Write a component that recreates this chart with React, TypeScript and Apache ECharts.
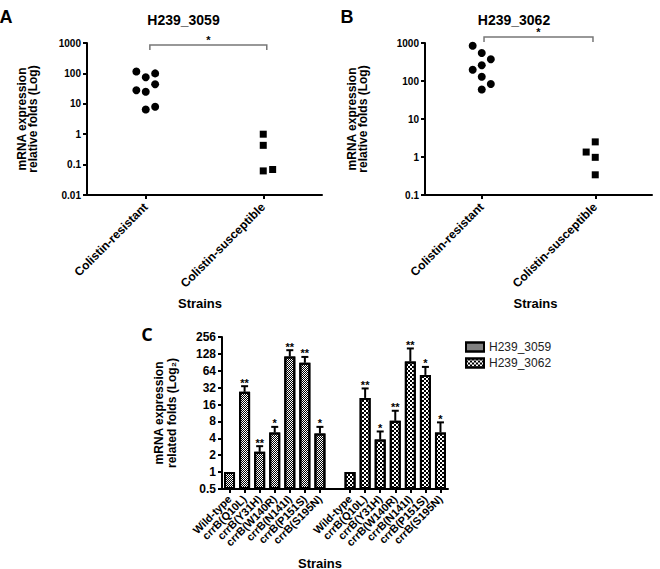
import React, { useEffect, useRef } from 'react';
import * as echarts from 'echarts';

// ---------- Panel A / B data ----------
const groupsAB = ['Colistin-resistant', 'Colistin-susceptible'];

const aResistant = [116, 75, 100, 28, 25, 44, 6.5, 8];
const aResistantCol = [-1, 0, 1, -1, 0, 1, 0, 1];
const aSusceptible = [1.0, 0.43, 0.062, 0.069];
const aSusceptibleCol = [0, 0, 0, 1];

const bResistant = [850, 545, 372, 198, 259, 130, 83, 60];
const bResistantCol = [-1, 0, 1, -1, 0, 0, 1, 0];
const bSusceptible = [2.5, 1.35, 0.98, 0.34];
const bSusceptibleCol = [0, -1, 0, 0];

const yRangeA = [0.01, 1000];
const yRangeB = [0.1, 1000];

// significance bracket: [from group, to group, top value, end value]
const bracketA = [1.035, 2.03, 860, 590];
const bracketB = [1.02, 1.98, 1440, 1060];

// ---------- Panel C data ----------
const strainsC = ['Wild-type', 'crrB(Q10L)', 'crrB(Y31H)', 'crrB(W140R)', 'crrB(N141I)', 'crrB(P151S)', 'crrB(S195N)'];
const mean3059 = [1, 27, 2.3, 5.1, 115, 89, 4.9];
const upper3059 = [1, 34, 2.9, 6.4, 149, 113, 6.4];
const sig3059 = ['', '**', '**', '*', '**', '**', '*'];
const mean3062 = [1, 21, 3.8, 8.2, 94, 54, 5.1];
const upper3062 = [1, 31, 5.3, 12.4, 160, 75, 7.7];
const sig3062 = ['', '**', '*', '**', '**', '*', '*'];
const yRangeC = [0.5, 256];

const FONT = '"Liberation Sans", Arial, sans-serif';
const JITTER = 0.08;

const catsC = [...strainsC, '', ...strainsC];
const off2 = strainsC.length + 1;

function jitterData(vals: number[], cols: number[], center: number) {
  return vals.map((v, i) => [center + cols[i] * JITTER, v]);
}

function bracketSeries(xi: number, yi: number, b: number[]) {
  return {
    type: 'custom',
    xAxisIndex: xi,
    yAxisIndex: yi,
    silent: true,
    clip: false,
    itemStyle: { color: '#000' },
    encode: { x: [0, 1], y: [2, 3] },
    data: [b],
    renderItem: (params: any, api: any) => {
      const p1 = api.coord([api.value(0), api.value(3)]);
      const p2 = api.coord([api.value(0), api.value(2)]);
      const p3 = api.coord([api.value(1), api.value(2)]);
      const p4 = api.coord([api.value(1), api.value(3)]);
      return {
        type: 'group',
        children: [
          { type: 'polyline', shape: { points: [p1, p2, p3, p4] }, style: { stroke: '#777', lineWidth: 1.5, fill: null } },
          {
            type: 'text',
            x: (p2[0] + p3[0]) / 2,
            y: p2[1] + 1,
            style: { text: '*', align: 'center', verticalAlign: 'bottom', fill: '#000', fontSize: 11, fontWeight: 'bold', fontFamily: FONT },
          },
        ],
      };
    },
  };
}

function errorSeries(means: number[], uppers: number[], sigs: string[], offset: number) {
  return {
    type: 'custom',
    xAxisIndex: 4,
    yAxisIndex: 2,
    silent: true,
    itemStyle: { color: '#000' },
    encode: { x: 0, y: [1, 2] },
    data: means.map((m, i) => [i + offset, uppers[i], m]),
    renderItem: (params: any, api: any) => {
      const idx = api.value(0);
      const top = api.coord([idx, api.value(2)]);
      const up = api.coord([idx, api.value(1)]);
      const star = sigs[params.dataIndex];
      const children: any[] = [];
      if (api.value(1) > api.value(2)) {
        children.push({ type: 'line', shape: { x1: top[0], y1: top[1], x2: up[0], y2: up[1] }, style: { stroke: '#000', lineWidth: 2 } });
        children.push({ type: 'line', shape: { x1: up[0] - 3.5, y1: up[1], x2: up[0] + 3.5, y2: up[1] }, style: { stroke: '#000', lineWidth: 2 } });
      }
      if (star) {
        children.push({
          type: 'text',
          x: up[0],
          y: up[1] + 2,
          style: { text: star, align: 'center', verticalAlign: 'bottom', fill: '#000', fontSize: 11, fontWeight: 'bold', fontFamily: FONT },
        });
      }
      return { type: 'group', children };
    },
  };
}

const axisLineStyle = { lineStyle: { color: '#000', width: 2 } };
const tickStyle = { lineStyle: { color: '#000', width: 2 } };

function catAxis(grid: number, data: string[], fontSize: number, margin: number) {
  return {
    type: 'category',
    gridIndex: grid,
    data,
    boundaryGap: true,
    axisLine: axisLineStyle,
    axisTick: { show: true, alignWithLabel: true, length: 4, inside: false, ...tickStyle, interval: (i: number, v: string) => v !== '' },
    axisLabel: { interval: 0, rotate: 45, margin, color: '#000', fontWeight: 'bold', fontSize, fontFamily: FONT },
    splitLine: { show: false },
  };
}

function logAxis(grid: number, range: number[], base: number, fontSize: number) {
  return {
    type: 'log',
    logBase: base,
    gridIndex: grid,
    min: range[0],
    max: range[1],
    axisLine: { show: true, ...axisLineStyle },
    axisTick: { show: true, length: 4, ...tickStyle },
    axisLabel: { margin: 6, color: '#000', fontWeight: 'bold', fontSize, fontFamily: FONT, formatter: (v: number) => String(v) },
    splitLine: { show: false },
  };
}

const decal3059 = { symbol: 'rect', symbolSize: 1, color: '#000', dashArrayX: [[1, 1], [0, 1, 1, 0]], dashArrayY: [1, 0] };
const decal3062 = { symbol: 'rect', symbolSize: 1, color: '#000', dashArrayX: [[2, 2], [0, 2, 2, 0]], dashArrayY: [2, 0] };

function gText(text: string, x: number, y: number, font: string, extra: any = {}) {
  return {
    type: 'text',
    x,
    y,
    silent: true,
    ...extra,
    style: { text, font, fill: '#000', align: 'center', verticalAlign: 'middle', ...(extra.style || {}) },
  };
}

export default function App() {
  const ref = useRef<HTMLDivElement>(null);
  useEffect(() => {
    if (!ref.current) return;
    const chart = echarts.init(ref.current, undefined, { renderer: 'svg' });
    const blank = (n: number) => Array(n).fill('-');
    const base = yRangeC[0];
    const base3059 = [...mean3059.map(() => base), ...blank(off2)];
    const base3062 = [...blank(off2), ...mean3062.map(() => base)];
    const option: any = {
      animation: false,
      backgroundColor: '#fff',
      grid: [
        { left: 87, top: 43, width: 235, height: 152 },
        { left: 425, top: 43, width: 227, height: 152 },
        { left: 222, top: 337, width: 226, height: 152 },
      ],
      xAxis: [
        catAxis(0, groupsAB, 12, 10),
        { type: 'value', gridIndex: 0, min: 0.5, max: 2.5, show: false },
        catAxis(1, groupsAB, 12, 10),
        { type: 'value', gridIndex: 1, min: 0.5, max: 2.5, show: false },
        catAxis(2, catsC, 11, 8),
      ],
      yAxis: [logAxis(0, yRangeA, 10, 10), logAxis(1, yRangeB, 10, 10), logAxis(2, yRangeC, 2, 12)],
      legend: {
        data: ['H239_3059', 'H239_3062'],
        orient: 'vertical',
        left: 465,
        top: 341,
        padding: 0,
        itemWidth: 18,
        itemHeight: 9,
        itemGap: 4,
        icon: 'rect',
        textStyle: { fontSize: 12, color: '#222', fontFamily: FONT },
      },
      series: [
        { type: 'scatter', xAxisIndex: 1, yAxisIndex: 0, symbol: 'circle', symbolSize: 8, itemStyle: { color: '#000', opacity: 1 }, data: jitterData(aResistant, aResistantCol, 1) },
        { type: 'scatter', xAxisIndex: 1, yAxisIndex: 0, symbol: 'rect', symbolSize: 7, itemStyle: { color: '#000', opacity: 1 }, data: jitterData(aSusceptible, aSusceptibleCol, 2) },
        bracketSeries(1, 0, bracketA),
        { type: 'scatter', xAxisIndex: 3, yAxisIndex: 1, symbol: 'circle', symbolSize: 8, itemStyle: { color: '#000', opacity: 1 }, data: jitterData(bResistant, bResistantCol, 1) },
        { type: 'scatter', xAxisIndex: 3, yAxisIndex: 1, symbol: 'rect', symbolSize: 7, itemStyle: { color: '#000', opacity: 1 }, data: jitterData(bSusceptible, bSusceptibleCol, 2) },
        bracketSeries(3, 1, bracketB),
        {
          type: 'bar', name: 'base3059', stack: 's3059', xAxisIndex: 4, yAxisIndex: 2, barWidth: 11, barGap: '-100%', silent: true,
          itemStyle: { color: 'rgba(0,0,0,0)', borderWidth: 0 }, data: base3059,
        },
        {
          type: 'bar',
          name: 'H239_3059',
          stack: 's3059',
          xAxisIndex: 4,
          yAxisIndex: 2,
          barWidth: 11,
          barGap: '-100%',
          itemStyle: { color: '#fff', borderColor: '#000', borderWidth: 2, decal: decal3059 },
          data: [...mean3059.map((m) => m - base), ...blank(off2)],
        },
        {
          type: 'bar', name: 'base3062', stack: 's3062', xAxisIndex: 4, yAxisIndex: 2, barWidth: 11, barGap: '-100%', silent: true,
          itemStyle: { color: 'rgba(0,0,0,0)', borderWidth: 0 }, data: base3062,
        },
        {
          type: 'bar',
          name: 'H239_3062',
          stack: 's3062',
          xAxisIndex: 4,
          yAxisIndex: 2,
          barWidth: 11,
          barGap: '-100%',
          itemStyle: { color: '#fff', borderColor: '#000', borderWidth: 2, decal: decal3062 },
          data: [...blank(off2), ...mean3062.map((m) => m - base)],
        },
        errorSeries(mean3059, upper3059, sig3059, 0),
        errorSeries(mean3062, upper3062, sig3062, off2),
      ],
      graphic: [
        gText('A', 6, 17, `bold 18px ${FONT}`),
        gText('B', 347, 17, `bold 18px ${FONT}`),
        gText('C', 147, 334, `bold 18px "Open Sans", ${FONT}`),
        gText('H239_3059', 183.5, 20, `bold 14px ${FONT}`),
        gText('H239_3062', 514, 20, `bold 14px ${FONT}`),
        gText('mRNA expression\nrelative folds (Log)', 27.5, 119, `bold 12px ${FONT}`, { rotation: Math.PI / 2, style: { lineHeight: 11 } }),
        gText('mRNA expression\nrelative folds (Log)', 357, 119, `bold 12px ${FONT}`, { rotation: Math.PI / 2, style: { lineHeight: 11 } }),
        gText('mRNA expression\nrelated folds (Log\u2082)', 165.5, 413, `bold 12px ${FONT}`, { rotation: Math.PI / 2, style: { lineHeight: 13 } }),
        gText('Strains', 200, 303, `bold 13px ${FONT}`),
        gText('Strains', 535.5, 303, `bold 13px ${FONT}`),
        gText('Strains', 320, 563, `bold 13px ${FONT}`),
      ],
    };
    chart.setOption(option);
    return () => chart.dispose();
  }, []);
  return <div ref={ref} style={{ position: 'absolute', left: 0, top: 0, width: 660, height: 569 }} />;
}
